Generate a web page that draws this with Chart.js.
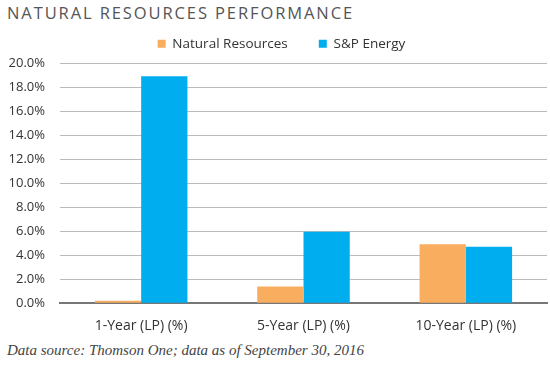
<!DOCTYPE html>
<html><head><meta charset="utf-8">
<script src="https://cdn.jsdelivr.net/npm/chart.js@4/dist/chart.umd.min.js"></script>
<style>
html,body{margin:0;padding:0;background:#fff;width:550px;height:367px;overflow:hidden;}
#title{position:absolute;left:7px;top:1px;font-family:"Open Sans",sans-serif;font-size:16.5px;letter-spacing:1.9px;color:#555;white-space:nowrap;}
#wrap{position:absolute;left:0;top:6px;width:550px;height:334px;}
#foot{position:absolute;left:7px;top:342px;font-family:"Liberation Serif",serif;font-style:italic;font-size:15px;color:#444;white-space:nowrap;}
</style></head><body>
<div id="title">NATURAL RESOURCES PERFORMANCE</div>
<div id="wrap"><canvas id="c"></canvas></div>
<div id="foot">Data source: Thomson One; data as of September 30, 2016</div>
<script>
const categories = ["1-Year (LP) (%)", "5-Year (LP) (%)", "10-Year (LP) (%)"];
const naturalResources = [0.2, 1.4, 4.9];
const spEnergy = [18.9, 5.95, 4.7];
const yTicks = [0,2,4,6,8,10,12,14,16,18,20];

new Chart(document.getElementById('c'), {
  type: 'bar',
  data: {
    labels: categories,
    datasets: [
      {label: 'Natural Resources', data: naturalResources, backgroundColor: '#F9AD5E', barPercentage: 1, categoryPercentage: 0.57},
      {label: 'S&P Energy', data: spEnergy, backgroundColor: '#00ADEE', barPercentage: 1, categoryPercentage: 0.57}
    ]
  },
  options: {
    responsive: true, maintainAspectRatio: false, animation: false,
    layout: {padding: {left: 4, right: 3, top: 0, bottom: 0}},
    plugins: {
      legend: {
        position: 'top',
        labels: {boxWidth: 8, boxHeight: 8, padding: 31, font: {family: '"Open Sans", sans-serif', size: 13.5}, color: '#333'}
      },
      tooltip: {enabled: false}
    },
    scales: {
      x: {
        grid: {display: false},
        border: {color: '#777', width: 2},
        ticks: {font: {family: '"Open Sans", sans-serif', size: 14}, color: '#333', padding: 6}
      },
      y: {
        min: 0, max: 20,
        afterBuildTicks: (ax) => { ax.ticks = yTicks.map(v => ({value: v})); },
        afterFit: (ax) => { ax.width = 56; },
        grid: {color: '#bbb', lineWidth: 1, drawTicks: false},
        border: {display: false},
        ticks: {font: {family: '"Open Sans", sans-serif', size: 13}, color: '#333', padding: 15,
          callback: v => v.toFixed(1) + '%'}
      }
    }
  },
  plugins: [{
    id: 'legendTweak',
    beforeInit(chart) {
      const lg = chart.legend;
      const orig = lg.fit;
      lg.fit = function() { orig.call(this); this.height = 57; };
    },
    afterLayout(chart) {
      chart.legend.left += 6;
      chart.legend.right += 6;
    }
  }]
});
</script>
</body></html>
